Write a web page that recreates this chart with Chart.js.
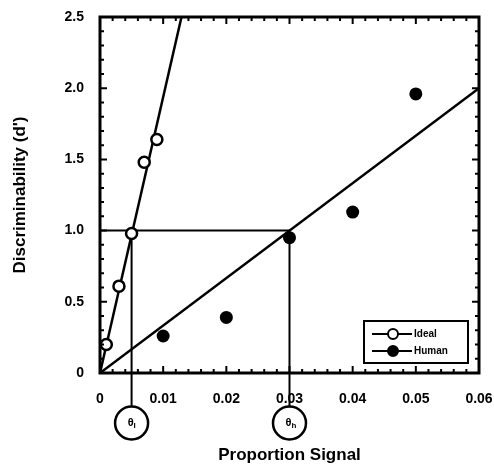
<!DOCTYPE html>
<html>
<head>
<meta charset="utf-8">
<script src="https://cdn.jsdelivr.net/npm/chart.js@4"></script>
<style>
html,body{margin:0;padding:0;background:#fff;}
#wrap{width:494px;height:467px;position:relative;}
</style>
</head>
<body>
<div id="wrap"><canvas id="c" width="494" height="467"></canvas></div>
<script>
// ---- data ----
const idealX = [0.001, 0.003, 0.005, 0.007, 0.009];
const idealY = [0.20, 0.61, 0.98, 1.48, 1.64];
const humanX = [0.010, 0.020, 0.030, 0.040, 0.050];
const humanY = [0.26, 0.39, 0.95, 1.13, 1.96];
const idealFitX = [0, 0.0129];
const idealFitY = [0, 2.5];
const humanFitX = [0, 0.06];
const humanFitY = [0, 2.0];
const criterion = 1.0;
const thetaIdeal = 0.005;
const thetaHuman = 0.03;
const thetaLabels = ['θ', 'θ'];
const thetaSubs = ['I', 'h'];
const seriesNames = ['Ideal', 'Human'];
const xTicks = [0, 0.01, 0.02, 0.03, 0.04, 0.05, 0.06];
const yTicks = [0, 0.5, 1.0, 1.5, 2.0, 2.5];

const pts = (xs, ys) => xs.map((x, i) => ({x, y: ys[i]}));

const FONT = "'Liberation Sans', Arial, sans-serif";

const framePlugin = {
  id: 'frame',
  afterDatasetsDraw(chart) {
    const {ctx, chartArea: a, scales: {x, y}} = chart;
    ctx.save();
    ctx.strokeStyle = '#000';
    ctx.lineWidth = 2;
    for (let i = 0; i <= 30; i++) {
      const v = i * 0.002;
      const px = x.getPixelForValue(v);
      const len = (i % 5 === 0) ? 7 : 4;
      ctx.beginPath();
      ctx.moveTo(px, a.bottom); ctx.lineTo(px, a.bottom - len);
      ctx.moveTo(px, a.top); ctx.lineTo(px, a.top + len);
      ctx.stroke();
    }
    for (let i = 0; i <= 25; i++) {
      const v = i * 0.1;
      const py = y.getPixelForValue(v);
      const len = (i % 5 === 0) ? 7 : 4;
      ctx.beginPath();
      ctx.moveTo(a.left, py); ctx.lineTo(a.left + len, py);
      ctx.moveTo(a.right, py); ctx.lineTo(a.right - len, py);
      ctx.stroke();
    }
    ctx.lineWidth = 3;
    ctx.strokeRect(a.left, a.top, a.right - a.left, a.bottom - a.top);

    const r = 16.5, cy = 423;
    [thetaIdeal, thetaHuman].forEach((t, i) => {
      const px = x.getPixelForValue(t);
      ctx.lineWidth = 2;
      ctx.beginPath();
      ctx.moveTo(px, a.bottom);
      ctx.lineTo(px, cy - r);
      ctx.stroke();
      ctx.lineWidth = 2.5;
      ctx.beginPath();
      ctx.arc(px, cy, r, 0, Math.PI * 2);
      ctx.stroke();
      ctx.fillStyle = '#000';
      ctx.font = 'bold 11px ' + FONT;
      ctx.textAlign = 'right';
      ctx.textBaseline = 'middle';
      ctx.fillText(thetaLabels[i], px + 2, cy);
      ctx.font = 'bold 8px ' + FONT;
      ctx.textAlign = 'left';
      ctx.fillText(thetaSubs[i], px + 2, cy + 3);
    });

    const lx = 364, ly = 321, lw = 104, lh = 42;
    ctx.fillStyle = '#fff';
    ctx.fillRect(lx, ly, lw, lh);
    ctx.lineWidth = 2;
    ctx.strokeRect(lx, ly, lw, lh);
    [[334, false], [351, true]].forEach(([yy, filled], i) => {
      ctx.lineWidth = 2;
      ctx.beginPath();
      ctx.moveTo(372, yy); ctx.lineTo(412, yy);
      ctx.stroke();
      ctx.beginPath();
      ctx.arc(393, yy, 5, 0, Math.PI * 2);
      ctx.fillStyle = filled ? '#000' : '#fff';
      ctx.fill();
      ctx.stroke();
      ctx.fillStyle = '#000';
      ctx.font = 'bold 10px ' + FONT;
      ctx.textAlign = 'left';
      ctx.textBaseline = 'middle';
      ctx.fillText(seriesNames[i], 414, yy + 0.5);
    });
    ctx.restore();
  }
};

new Chart(document.getElementById('c'), {
  type: 'scatter',
  data: {
    datasets: [
      { label: 'guide', data: [{x: 0, y: criterion}, {x: thetaHuman, y: criterion}, {x: thetaHuman, y: 0}],
        showLine: true, borderColor: '#000', borderWidth: 2, pointRadius: 0, order: 5 },
      { label: 'guide2', data: [{x: thetaIdeal, y: criterion}, {x: thetaIdeal, y: 0}],
        showLine: true, borderColor: '#000', borderWidth: 2, pointRadius: 0, order: 5 },
      { label: 'idealFit', data: pts(idealFitX, idealFitY), showLine: true,
        borderColor: '#000', borderWidth: 2.5, pointRadius: 0, order: 4 },
      { label: 'humanFit', data: pts(humanFitX, humanFitY), showLine: true,
        borderColor: '#000', borderWidth: 2.5, pointRadius: 0, order: 4 },
      { label: seriesNames[0], data: pts(idealX, idealY), showLine: false,
        pointRadius: 5.5, pointBorderWidth: 2.5, pointBackgroundColor: '#fff', pointBorderColor: '#000', order: 1 },
      { label: seriesNames[1], data: pts(humanX, humanY), showLine: false,
        pointRadius: 6.5, pointBorderWidth: 0, pointBackgroundColor: '#000', pointBorderColor: '#000', order: 1 }
    ]
  },
  options: {
    responsive: false,
    animation: false,
    events: [],
    layout: { padding: { left: 0, top: 17, right: 15, bottom: 0 } },
    plugins: { legend: { display: false }, tooltip: { enabled: false } },
    scales: {
      x: {
        type: 'linear', min: 0, max: 0.06,
        afterFit: s => { s.height = 94; s.paddingLeft = 0; s.paddingRight = 0; },
        afterBuildTicks: s => { s.ticks = xTicks.map(v => ({value: v})); },
        grid: { display: false },
        border: { display: false },
        ticks: { color: '#000', padding: 10, maxRotation: 0, font: { family: FONT, weight: 'bold', size: 14 },
          callback: v => v === 0 ? '0' : v.toFixed(2) },
        title: { display: true, text: 'Proportion Signal', color: '#000',
          font: { family: FONT, weight: 'bold', size: 17 }, padding: { top: 0, bottom: 1 } }
      },
      y: {
        type: 'linear', min: 0, max: 2.5,
        afterFit: s => { s.width = 100; s.paddingTop = 0; s.paddingBottom = 0; },
        afterBuildTicks: s => { s.ticks = yTicks.map(v => ({value: v})); },
        grid: { display: false },
        border: { display: false },
        ticks: { color: '#000', padding: 8, font: { family: FONT, weight: 'bold', size: 14 },
          callback: v => v === 0 ? '0' : v.toFixed(1) },
        title: { display: true, text: "Discriminability (d')", color: '#000',
          font: { family: FONT, weight: 'bold', size: 17 }, padding: { top: 10, bottom: 0 } }
      }
    }
  },
  plugins: [framePlugin]
});
</script>
</body>
</html>
